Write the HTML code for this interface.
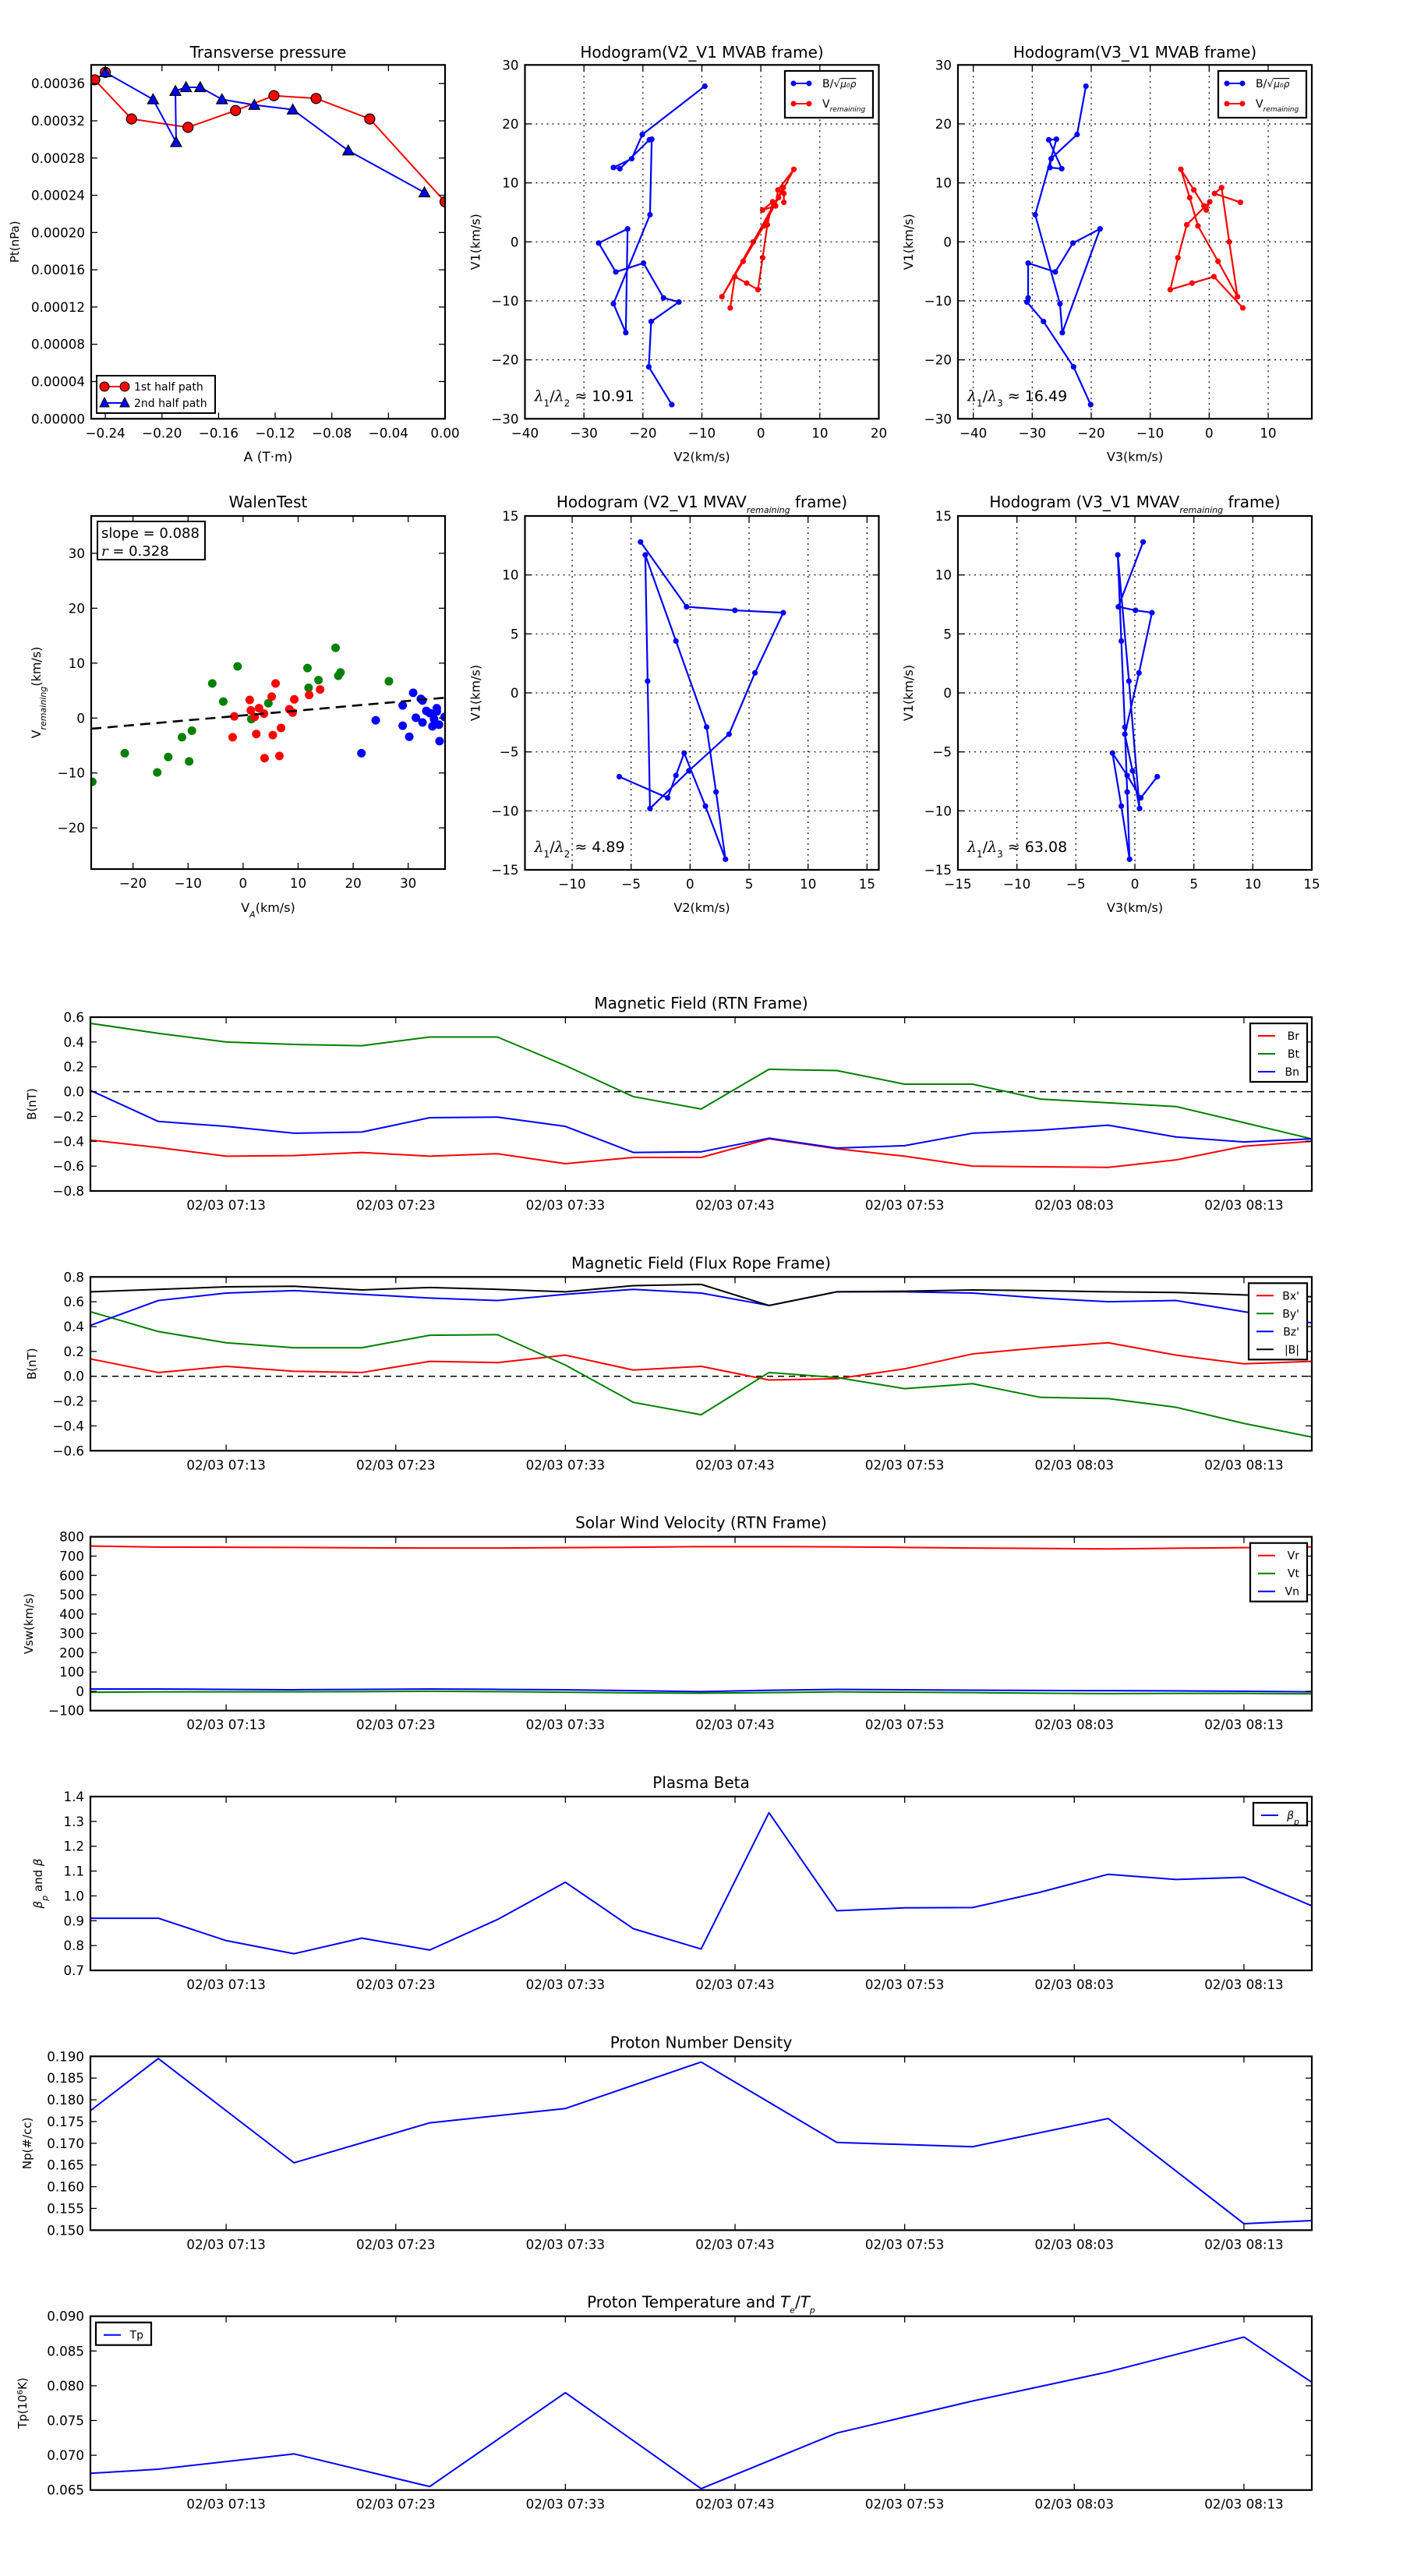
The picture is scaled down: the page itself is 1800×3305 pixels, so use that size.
<!DOCTYPE html>
<html><head><meta charset="utf-8"><title>Flux rope analysis</title>
<style>
html,body{margin:0;padding:0;background:#fff;}
svg text{font-family:"DejaVu Sans","Liberation Sans",sans-serif;fill:#000;}
</style></head>
<body>
<svg id="chart" xmlns="http://www.w3.org/2000/svg" width="1800" height="3300" viewBox="0 0 1800 3300">
<rect x="0" y="0" width="1800" height="3300" fill="#fff"/>
<defs id="defs"></defs>
</svg>
<script>
// ---------- data ----------
const tpRedA=[-0.240,-0.2475,-0.2215,-0.1816,-0.148,-0.1209,-0.0911,-0.0532,0.0];
const tpRedP=[0.000372,0.000364,0.000322,0.000313,0.000331,0.000347,0.000344,0.000322,0.000233];
const tpBlueA=[-0.240,-0.2063,-0.190,-0.1905,-0.183,-0.173,-0.1576,-0.1348,-0.1076,-0.0684,-0.0146];
const tpBlueP=[0.000372,0.000343,0.000297,0.000352,0.000356,0.000356,0.000343,0.000337,0.000332,0.000288,0.000243];
const tpXTicks=[-0.24,-0.20,-0.16,-0.12,-0.08,-0.04,0.00];
const tpYTicks=[0,0.00004,0.00008,0.00012,0.00016,0.00020,0.00024,0.00028,0.00032,0.00036];

const hbV1=[26.4,18.2,14.1,12.6,12.4,17.3,17.4,4.6,-10.5,-15.4,2.2,-0.2,-5.1,-3.6,-9.5,-10.2,-13.5,-21.2,-27.6];
const hbV2=[-9.5,-20.1,-21.9,-25.0,-23.9,-18.9,-18.5,-18.8,-25.0,-22.9,-22.6,-27.5,-24.6,-19.9,-16.5,-13.9,-18.6,-19.0,-15.1];
const hbV3=[-20.9,-22.4,-26.8,-27.0,-25.0,-27.2,-25.9,-29.5,-25.3,-24.9,-18.5,-23.1,-26.1,-30.7,-30.7,-30.9,-28.1,-23.0,-20.1];
const hvV1=[6.7,8.2,9.2,0,-9.3,-3.3,2.7,7.5,12.3,8.8,6.1,5.4,6.8,2.9,-2.7,-8.1,-7.0,-5.9,-11.2];
const hvV2=[3.9,3.9,3.8,-1.3,-6.6,-3.0,0.5,3.0,5.6,2.9,2.5,0.3,2.0,1.1,0.3,-0.5,-2.4,-4.4,-5.2];
const hvV3=[5.3,0.9,2.1,3.4,4.8,1.5,-1.9,-3.3,-4.8,-2.6,-0.9,-0.5,0.1,-3.8,-5.3,-6.6,-2.9,0.8,5.7];
const lambda12="10.91", lambda13="16.49";

const hmV1=[-7.1,-8.9,-7.0,-5.1,-9.6,-14.1,-8.4,-2.9,4.4,11.7,1.0,-9.8,-6.6,-3.5,1.7,6.8,7.0,7.3,12.8];
const hmV2=[-6.0,-1.9,-1.2,-0.5,1.3,3.0,2.2,1.4,-1.2,-3.8,-3.6,-3.4,-0.1,3.3,5.5,7.9,3.8,-0.3,-4.2];
const hmV3=[1.9,0.5,-0.65,-1.9,-1.15,-0.45,-0.65,-0.85,-1.15,-1.45,-0.5,0.4,-0.2,-0.85,0.35,1.45,0.05,-1.4,0.7];
const lambdaM12="4.89", lambdaM13="63.08";

const walenGreenX=[-27.4,-21.5,-15.6,-13.6,-11.1,-9.8,-9.3,-5.6,-3.6,-1.0,1.5,4.6,11.7,11.9,13.7,16.8,17.3,17.7,26.5];
const walenGreenY=[-11.6,-6.4,-9.9,-7.1,-3.5,-7.9,-2.3,6.3,3.0,9.4,-0.2,2.7,9.1,5.5,6.9,12.8,7.7,8.3,6.7];
const walenRedX=[-1.6,-1.9,1.2,1.4,2.1,2.4,2.9,3.8,3.9,5.2,5.4,5.9,6.6,6.9,8.4,9.0,9.3,12.0,14.0];
const walenRedY=[0.3,-3.5,3.3,1.4,0.2,-2.9,1.8,0.8,-7.3,3.9,-3.1,6.3,-6.9,-1.8,1.6,1.0,3.4,4.2,5.2];
const walenBlueX=[21.5,24.1,29.0,29.0,30.2,30.9,31.4,32.3,32.6,32.6,33.3,33.9,34.4,34.7,35.2,35.2,35.6,35.7,36.6];
const walenBlueY=[-6.4,-0.4,2.3,-1.4,-3.4,4.6,0.05,3.5,3.2,-0.8,1.3,0.9,-1.5,-0.2,1.8,1.2,-1.2,-4.2,0.2];
const walenSlope=0.088, walenIntercept=0.48, walenR=0.328;
const walenTicks=[-20,-10,0,10,20,30];

const times=["07:05","07:09","07:13","07:17","07:21","07:25","07:29","07:33","07:37","07:41","07:45","07:49","07:53","07:57","08:01","08:05","08:09","08:13","08:17"];
const brVals=[-0.39,-0.45,-0.52,-0.515,-0.49,-0.52,-0.50,-0.58,-0.53,-0.53,-0.38,-0.46,-0.52,-0.60,-0.605,-0.61,-0.55,-0.44,-0.40];
const btVals=[0.55,0.47,0.40,0.38,0.37,0.44,0.44,0.21,-0.04,-0.14,0.18,0.17,0.06,0.06,-0.06,-0.09,-0.12,-0.25,-0.38];
const bnVals=[0.01,-0.24,-0.28,-0.335,-0.325,-0.21,-0.205,-0.28,-0.49,-0.485,-0.375,-0.455,-0.435,-0.335,-0.31,-0.27,-0.365,-0.405,-0.38];
const bxpVals=[0.14,0.03,0.08,0.04,0.03,0.12,0.11,0.17,0.05,0.08,-0.03,-0.02,0.06,0.18,0.23,0.27,0.17,0.10,0.12];
const bypVals=[0.52,0.36,0.27,0.23,0.23,0.33,0.335,0.09,-0.21,-0.31,0.03,-0.01,-0.10,-0.06,-0.17,-0.18,-0.25,-0.38,-0.49];
const bzpVals=[0.41,0.61,0.67,0.69,0.66,0.63,0.61,0.66,0.70,0.67,0.57,0.68,0.68,0.67,0.63,0.60,0.61,0.52,0.43];
const bmagVals=[0.68,0.70,0.72,0.725,0.695,0.715,0.70,0.68,0.73,0.74,0.57,0.68,0.685,0.695,0.69,0.68,0.675,0.655,0.64];
const vrVals=[752,747,746,745,743,742,742,744,746,749,749,748,745,742,740,737,741,744,748];
const vtVals=[-5,-3,-3,-3,-2,0,-2,-5,-8,-10,-7,-3,-5,-7,-10,-12,-11,-11,-13];
const vnVals=[12,12,10,8,10,12,10,8,3,-2,5,10,8,6,4,3,2,0,-3];
const betaVals=[0.91,0.91,0.82,0.767,0.83,0.782,0.905,1.055,0.868,0.786,1.335,0.94,0.952,0.953,1.015,1.087,1.066,1.075,0.96];
const npTimes=["07:05","07:09","07:17","07:25","07:33","07:41","07:49","07:57","08:05","08:13","08:17"];
const npVals=[0.1775,0.1895,0.1655,0.1747,0.178,0.1887,0.1702,0.1692,0.1757,0.1515,0.1522];
const tpVals=[0.0674,0.068,0.0702,0.0655,0.079,0.0652,0.0732,0.0778,0.082,0.087,0.0805];
const timeTicks=["07:13","07:23","07:33","07:43","07:53","08:03","08:13"];

// ---------- helpers ----------
const NS='http://www.w3.org/2000/svg';
const svg=document.getElementById('chart');
const defs=document.getElementById('defs');
let clipId=0;
function mk(tag,attrs,parent){const e=document.createElementNS(NS,tag);for(const k in attrs)e.setAttribute(k,attrs[k]);(parent||svg).appendChild(e);return e;}
function fmt(v,d){const s=Math.abs(v).toFixed(d);return (v<0&&parseFloat(s)!==0?'\u2212':'')+s;}
function tmin(s){const p=s.split(':');return (parseInt(p[0],10)-7)*60+parseInt(p[1],10)-5;}

function makeAxes(name,x0,y0,w,h,xmin,xmax,ymin,ymax){
  const g=mk('g',{});
  
  
  const id='clip'+(clipId++);
  const cp=mk('clipPath',{id:id},defs);
  mk('rect',{x:x0,y:y0,width:w,height:h},cp);
  const dg=mk('g',{'clip-path':'url(#'+id+')'},g);
  
  
  return {x0,y0,w,h,g,dg,sx:v=>x0+(v-xmin)/(xmax-xmin)*w,sy:v=>y0+h-(v-ymin)/(ymax-ymin)*h};
}
function frame(ax){
  const r=mk('rect',{x:ax.x0,y:ax.y0,width:ax.w,height:ax.h,fill:'none',stroke:'#000','stroke-width':2.2},ax.g);
  
  
}
function text(parent,x,y,str,size,anchor){
  const t=mk('text',{x:x,y:y,'font-size':size,'text-anchor':anchor||'middle'},parent);
  t.textContent=str;return t;
}
function xTicks(ax,vals,labels,grid,fs){
  vals.forEach((v,i)=>{
    const x=ax.sx(v);
    if(grid){const gl=mk('line',{x1:x,y1:ax.y0,x2:x,y2:ax.y0+ax.h,stroke:'#000','stroke-width':1.2,'stroke-dasharray':'2,5'},ax.g);
      
      }
    const t1=mk('line',{x1:x,y1:ax.y0+ax.h,x2:x,y2:ax.y0+ax.h-8,stroke:'#000','stroke-width':1.3},ax.g);
    
    
    const t2=mk('line',{x1:x,y1:ax.y0,x2:x,y2:ax.y0+8,stroke:'#000','stroke-width':1.3},ax.g);
    
    
    const lb=text(ax.g,x,ax.y0+ax.h+24,labels[i],fs||16.7,'middle');
    
    
  });
}
function yTicks(ax,vals,labels,grid,fs){
  vals.forEach((v,i)=>{
    const y=ax.sy(v);
    if(grid){const gl=mk('line',{x1:ax.x0,y1:y,x2:ax.x0+ax.w,y2:y,stroke:'#000','stroke-width':1.2,'stroke-dasharray':'2,5'},ax.g);
      
      }
    const t1=mk('line',{x1:ax.x0,y1:y,x2:ax.x0+8,y2:y,stroke:'#000','stroke-width':1.3},ax.g);
    
    
    const t2=mk('line',{x1:ax.x0+ax.w,y1:y,x2:ax.x0+ax.w-8,y2:y,stroke:'#000','stroke-width':1.3},ax.g);
    
    
    const lb=text(ax.g,ax.x0-8,y+6,labels[i],fs||16.7,'end');
    
    
  });
}
function pathD(ax,xs,ys){return xs.map((x,i)=>(i?'L':'M')+ax.sx(x).toFixed(2)+','+ax.sy(ys[i]).toFixed(2)).join(' ');}
function series(ax,xs,ys,color,name,lw){
  const p=mk('path',{d:pathD(ax,xs,ys),fill:'none',stroke:color,'stroke-width':lw||2,'stroke-linejoin':'round'},ax.dg);
  
  
  return p;
}
function dots(ax,xs,ys,color,name,r,stroke){
  xs.forEach((x,i)=>{
    const c=mk('circle',{cx:ax.sx(x),cy:ax.sy(ys[i]),r:r,fill:color,stroke:stroke||'none','stroke-width':1.2},ax.dg);
    
    
  });
}
function tris(ax,xs,ys,color,name,s){
  xs.forEach((x,i)=>{
    const cx=ax.sx(x),cy=ax.sy(ys[i]);
    const p=mk('polygon',{points:`${cx},${cy-s} ${cx-s},${cy+s*0.8} ${cx+s},${cy+s*0.8}`,fill:color,stroke:'#000','stroke-width':1.2},ax.dg);
    
    
  });
}
function title(ax,parts,y){
  const t=mk('text',{x:ax.x0+ax.w/2,y:y,'font-size':20,'text-anchor':'middle'},ax.g);
  parts.forEach(pt=>{const s=mk('tspan',pt.attrs||{},t);s.textContent=pt.t;});
  
  
  return t;
}
function ylabel(ax,x,parts,fs){
  const cy=ax.y0+ax.h/2;
  const t=mk('text',{x:x,y:cy,'font-size':fs||16,'text-anchor':'middle',transform:`rotate(-90 ${x} ${cy})`},ax.g);
  parts.forEach(pt=>{const s=mk('tspan',pt.attrs||{},t);s.textContent=pt.t;});
  
  
}
function xlabel(ax,y,parts,fs){
  const t=mk('text',{x:ax.x0+ax.w/2,y:y,'font-size':fs||17,'text-anchor':'middle'},ax.g);
  parts.forEach(pt=>{const s=mk('tspan',pt.attrs||{},t);s.textContent=pt.t;});
  
  
}
function range(a,b,s,d){const out=[];for(let v=a;v<=b+s/1e3;v+=s)out.push(parseFloat(v.toFixed(d)));return out;}
const sub=(t)=>({t:t,attrs:{'font-size':'11','font-style':'italic','baseline-shift':'sub'}});
const nrm=(t)=>({t:t,attrs:{'baseline-shift':'0'}});

// ---------- Top row ----------
const C1=117,C2=673.5,C3=1229,CW=454,R1=83.3,R2=662,RH=454;

// Transverse pressure
const tp=makeAxes('transverse-pressure-chart',C1,R1,CW,RH,-0.25,0,0,0.00038);
series(tp,tpRedA,tpRedP,'#f00','first-half-path-line',2);
series(tp,tpBlueA,tpBlueP,'#00f','second-half-path-line',2);
dots(tp,tpRedA,tpRedP,'#f00','first-half-marker',6.5,'#000');
tris(tp,tpBlueA,tpBlueP,'#00f','second-half-marker',7);
xTicks(tp,tpXTicks,tpXTicks.map(v=>fmt(v,2)));
yTicks(tp,tpYTicks,tpYTicks.map(v=>v.toFixed(5)));
frame(tp);
title(tp,[{t:'Transverse pressure'}],74);
xlabel(tp,592,[{t:'A (T\u00b7m)'}]);
ylabel(tp,24,[{t:'Pt(nPa)'}],15);
{
  const lg=mk('g',{},tp.g);
  
  
  mk('rect',{x:124,y:482,width:152,height:48,fill:'#fff',stroke:'#000','stroke-width':2},lg);
  mk('line',{x1:134,y1:496,x2:160,y2:496,stroke:'#f00','stroke-width':2},lg);
  mk('circle',{cx:134,cy:496,r:6,fill:'#f00',stroke:'#000'},lg);
  mk('circle',{cx:160,cy:496,r:6,fill:'#f00',stroke:'#000'},lg);
  const t1=text(lg,172,501,'1st half path',14,'start');
  
  
  mk('line',{x1:134,y1:517,x2:160,y2:517,stroke:'#00f','stroke-width':2},lg);
  mk('polygon',{points:'134,510 128,522 140,522',fill:'#00f',stroke:'#000'},lg);
  mk('polygon',{points:'160,510 154,522 166,522',fill:'#00f',stroke:'#000'},lg);
  const t2=text(lg,172,522,'2nd half path',14,'start');
  
  
}

function hodoLegend(ax,bx){
  const lg=mk('g',{},ax.g);
  
  
  mk('rect',{x:bx,y:91,width:113,height:60,fill:'#fff',stroke:'#000','stroke-width':2.2},lg);
  mk('line',{x1:bx+11,y1:107,x2:bx+31,y2:107,stroke:'#00f','stroke-width':2},lg);
  mk('circle',{cx:bx+11,cy:107,r:3.5,fill:'#00f'},lg);
  mk('circle',{cx:bx+31,cy:107,r:3.5,fill:'#00f'},lg);
  const t1=mk('text',{x:bx+48,y:112,'font-size':14},lg);
  t1.textContent='B/\u221a';
  const s1=mk('tspan',{'font-style':'italic','text-decoration':'overline','font-size':12},t1);
  s1.textContent='\u03bc\u2080\u03c1';
  
  
  mk('line',{x1:bx+11,y1:133,x2:bx+31,y2:133,stroke:'#f00','stroke-width':2},lg);
  mk('circle',{cx:bx+11,cy:133,r:3.5,fill:'#f00'},lg);
  mk('circle',{cx:bx+31,cy:133,r:3.5,fill:'#f00'},lg);
  const t2=mk('text',{x:bx+48,y:138,'font-size':14},lg);
  t2.textContent='V';
  const s2=mk('tspan',{'font-style':'italic','font-size':9,'baseline-shift':'sub'},t2);
  s2.textContent='remaining';
  
  
}
function lambdaText(ax,x,y,idx,val){
  const t=mk('text',{x:x,y:y,'font-size':19},ax.g);
  const a=mk('tspan',{'font-style':'italic','font-family':'DejaVu Serif, serif'},t);a.textContent='\u03bb';
  const b=mk('tspan',{'font-size':12,'baseline-shift':'sub'},t);b.textContent='1';
  const c=mk('tspan',{'baseline-shift':'0'},t);c.textContent='/';
  const d=mk('tspan',{'font-style':'italic','font-family':'DejaVu Serif, serif'},t);d.textContent='\u03bb';
  const e=mk('tspan',{'font-size':12,'baseline-shift':'sub'},t);e.textContent=idx;
  const f=mk('tspan',{'baseline-shift':'0'},t);f.textContent=' \u2248 '+val;
  
  
}
function hodo(name,x0,y0,xmin,xmax,ymin,ymax,xt,yt,bx,by,bLabel,vx,vy,ttl,xl,lamIdx,lamVal,legX){
  const ax=makeAxes(name,x0,y0,CW,RH,xmin,xmax,ymin,ymax);
  xTicks(ax,xt,xt.map(v=>fmt(v,0)),true);
  yTicks(ax,yt,yt.map(v=>fmt(v,0)),true);
  series(ax,bx,by,'#00f','b-field-hodogram-line',2.2);
  dots(ax,bx,by,'#00f','b-field-point',3.6);
  if(vx){series(ax,vx,vy,'#f00','velocity-hodogram-line',2.2);
    dots(ax,vx,vy,'#f00','velocity-point',3.6);}
  frame(ax);
  title(ax,ttl,y0===R1?74:651);
  xlabel(ax,y0+RH+54,[{t:xl}],16);
  ylabel(ax,x0-58,[{t:'V1(km/s)'}],16);
  lambdaText(ax,x0+12,y0+RH-23,lamIdx,lamVal);
  if(legX)hodoLegend(ax,legX);
  return ax;
}
hodo('hodogram-v2-v1-mvab',C2,R1,-40,20,-30,30,range(-40,20,10,0),range(-30,30,10,0),hbV2,hbV1,null,hvV2,hvV1,
  [{t:'Hodogram(V2_V1 MVAB frame)'}],'V2(km/s)','2',lambda12,1007);
hodo('hodogram-v3-v1-mvab',C3,R1,-42.6,17.4,-30,30,range(-40,10,10,0),range(-30,30,10,0),hbV3,hbV1,null,hvV3,hvV1,
  [{t:'Hodogram(V3_V1 MVAB frame)'}],'V3(km/s)','3',lambda13,1563);
hodo('hodogram-v2-v1-mvav',C2,R2,-14,16,-15,15,range(-10,15,5,0),range(-15,15,5,0),hmV2,hmV1,null,null,null,
  [{t:'Hodogram (V2_V1 MVAV'},sub('remaining'),nrm(' frame)')],'V2(km/s)','2',lambdaM12,0);
hodo('hodogram-v3-v1-mvav',C3,R2,-15,15,-15,15,range(-15,15,5,0),range(-15,15,5,0),hmV3,hmV1,null,null,null,
  [{t:'Hodogram (V3_V1 MVAV'},sub('remaining'),nrm(' frame)')],'V3(km/s)','3',lambdaM13,0);

// Walen test
const wt=makeAxes('walen-test-chart',C1,R2,CW,RH-1,-27.6,36.7,-27.5,36.8);
dots(wt,walenGreenX,walenGreenY,'#008000','walen-point-green',5.5);
dots(wt,walenRedX,walenRedY,'#f00','walen-point-red',5.5);
dots(wt,walenBlueX,walenBlueY,'#00f','walen-point-blue',5.5);
{
  const fx=[-27.6,36.7];
  const fy=fx.map(x=>walenIntercept+walenSlope*x);
  const fl=series(wt,fx,fy,'#000','walen-fit-line',2.6);
  fl.setAttribute('stroke-dasharray','13,8');
}
xTicks(wt,walenTicks,walenTicks.map(v=>fmt(v,0)));
yTicks(wt,walenTicks,walenTicks.map(v=>fmt(v,0)));
frame(wt);
title(wt,[{t:'WalenTest'}],651);
xlabel(wt,1170,[{t:'V'},{t:'A',attrs:{'font-size':'11','font-style':'italic','baseline-shift':'sub'}},nrm('(km/s)')],16);
ylabel(wt,52,[{t:'V'},sub('remaining'),nrm('(km/s)')],16);
{
  const bg=mk('g',{},wt.g);
  
  
  mk('rect',{x:125,y:669,width:138,height:49,fill:'#fff',stroke:'#000','stroke-width':2},bg);
  text(bg,130,690,'slope = '+walenSlope.toFixed(3),18,'start');
  const t=mk('text',{x:130,y:713,'font-size':18},bg);
  const a=mk('tspan',{'font-style':'italic','font-family':'DejaVu Serif, serif'},t);a.textContent='r';
  const b=mk('tspan',{},t);b.textContent=' = '+walenR.toFixed(3);
}

// ---------- Time series ----------
const TX=116,TW=1567,TH=223;
const tops=[1305,1638.3,1971.7,2305,2638.3,2971.7];
const tAll=times.map(tmin), tNp=npTimes.map(tmin);
const tTickVals=timeTicks.map(tmin), tTickLabels=timeTicks.map(s=>'02/03 '+s);
function tsPanel(name,top,ymin,ymax,yt,yd,ttl,yl,ylx){
  const ax=makeAxes(name,TX,top,TW,TH,0,72,ymin,ymax);
  xTicks(ax,tTickVals,tTickLabels);
  yTicks(ax,yt,yt.map(v=>fmt(v,yd)));
  title(ax,ttl,top-11);
  ylabel(ax,ylx,yl,15);
  return ax;
}
function legendBox(ax,x,y,w,entries){
  const lg=mk('g',{},ax.g);
  
  
  const h=entries.length*23+6;
  mk('rect',{x:x,y:y,width:w,height:h,fill:'#fff',stroke:'#000','stroke-width':2.2},lg);
  entries.forEach((e,i)=>{
    const yy=y+16+i*23;
    mk('line',{x1:x+10,y1:yy,x2:x+32,y2:yy,stroke:e.c,'stroke-width':2},lg);
    const t=mk('text',{x:x+w-10,y:yy+5,'font-size':14,'text-anchor':'end'},lg);
    if(e.parts){e.parts.forEach(pt=>{const s=mk('tspan',pt.attrs||{},t);s.textContent=pt.t;});}
    else t.textContent=e.t;
    
    
  });
}
function zeroLine(ax){
  const z=series(ax,[0,72],[0,0],'#000','zero-reference-line',1.5);
  z.setAttribute('stroke-dasharray','8,6');
}

// Magnetic field RTN
const m1=tsPanel('magnetic-field-rtn-chart',tops[0],-0.8,0.6,range(-0.8,0.6,0.2,1),1,[{t:'Magnetic Field (RTN Frame)'}],[{t:'B(nT)'}],46);
zeroLine(m1);
series(m1,tAll,brVals,'#f00','br-line');
series(m1,tAll,btVals,'#008000','bt-line');
series(m1,tAll,bnVals,'#00f','bn-line');
frame(m1);
legendBox(m1,1604,tops[0]+8,73,[{t:'Br',c:'#f00'},{t:'Bt',c:'#008000'},{t:'Bn',c:'#00f'}]);

// Magnetic field flux rope
const m2=tsPanel('magnetic-field-flux-rope-chart',tops[1],-0.6,0.8,range(-0.6,0.8,0.2,1),1,[{t:'Magnetic Field (Flux Rope Frame)'}],[{t:'B(nT)'}],46);
zeroLine(m2);
series(m2,tAll,bxpVals,'#f00','bx-prime-line');
series(m2,tAll,bypVals,'#008000','by-prime-line');
series(m2,tAll,bzpVals,'#00f','bz-prime-line');
series(m2,tAll,bmagVals,'#000','b-magnitude-line');
frame(m2);
legendBox(m2,1602,tops[1]+8,75,[{t:"Bx'",c:'#f00'},{t:"By'",c:'#008000'},{t:"Bz'",c:'#00f'},{t:'|B|',c:'#000'}]);

// Solar wind velocity
const sw=tsPanel('solar-wind-velocity-chart',tops[2],-100,800,range(-100,800,100,0),0,[{t:'Solar Wind Velocity (RTN Frame)'}],[{t:'Vsw(km/s)'}],42);
series(sw,tAll,vrVals,'#f00','vr-line');
series(sw,tAll,vtVals,'#008000','vt-line');
series(sw,tAll,vnVals,'#00f','vn-line');
frame(sw);
legendBox(sw,1604,tops[2]+8,73,[{t:'Vr',c:'#f00'},{t:'Vt',c:'#008000'},{t:'Vn',c:'#00f'}]);

// Plasma beta
const pb=tsPanel('plasma-beta-chart',tops[3],0.7,1.4,range(0.7,1.4,0.1,1),1,[{t:'Plasma Beta'}],
  [{t:'\u03b2',attrs:{'font-style':'italic'}},sub('p'),nrm(' and '),{t:'\u03b2',attrs:{'font-style':'italic'}}],54);
series(pb,tAll,betaVals,'#00f','beta-p-line');
frame(pb);
legendBox(pb,1608,tops[3]+8,69,[{c:'#00f',parts:[{t:'\u03b2',attrs:{'font-style':'italic'}},sub('p')]}]);

// Proton number density
const np=tsPanel('proton-density-chart',tops[4],0.150,0.190,range(0.150,0.190,0.005,3),3,[{t:'Proton Number Density'}],[{t:'Np(#/cc)'}],40);
series(np,tNp,npVals,'#00f','np-line');
frame(np);

// Proton temperature
const pt=tsPanel('proton-temperature-chart',tops[5],0.065,0.090,range(0.065,0.090,0.005,3),3,
  [{t:'Proton Temperature and '},{t:'T',attrs:{'font-style':'italic'}},sub('e'),nrm('/'),{t:'T',attrs:{'font-style':'italic'}},sub('p')],
  [{t:'Tp(10'},{t:'6',attrs:{'font-size':'10','baseline-shift':'super'}},nrm('K)')],34);
series(pt,tNp,tpVals,'#00f','tp-line');
frame(pt);
legendBox(pt,123,tops[5]+8,71,[{t:'Tp',c:'#00f'}]);
</script>
</body></html>
